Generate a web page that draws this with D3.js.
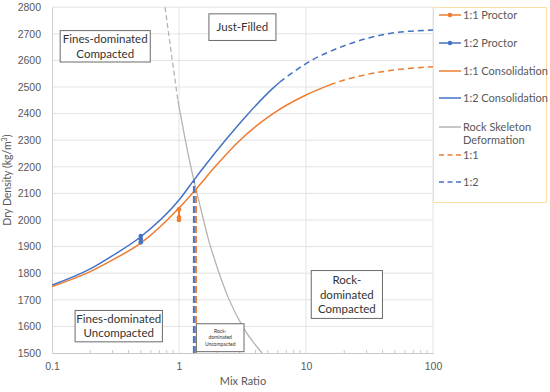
<!DOCTYPE html>
<html>
<head>
<meta charset="utf-8">
<script src="https://cdn.jsdelivr.net/npm/d3@7"></script>
<style>
  body { margin: 0; background: #fff; }
  svg { font-family: Lato, "Liberation Sans", sans-serif; }
</style>
</head>
<body>
<svg id="chart"></svg>
<script>
// values
const proctor11X = [1, 1, 1];
const proctor11Y = [2040, 2010, 2000];
const proctor12X = [0.5, 0.5, 0.5];
const proctor12Y = [1940, 1928, 1916];

const cons11X = [0.1, 0.2, 0.3, 0.5, 1, 1.36, 1.92, 3.02, 5.5, 10, 15.4];
const cons11Y = [1750, 1806, 1850, 1913, 2045, 2116, 2200, 2300, 2400, 2470, 2508];
const ext11X = [15.4, 20, 30, 50, 100];
const ext11Y = [2508, 2526, 2547, 2564, 2576];

const cons12X = [0.1, 0.2, 0.3, 0.5, 1, 1.31, 1.6, 2.38, 3.41, 5.47, 6.2];
const cons12Y = [1755, 1816, 1866, 1937, 2075, 2150, 2204, 2306, 2393, 2495, 2518];
const ext12X = [6.2, 10, 20, 50, 100];
const ext12Y = [2518, 2588, 2655, 2704, 2714];

const rockDashX = [0.776, 0.88, 0.98];
const rockDashY = [2800, 2610, 2450];
const rockX = [0.98, 1.11, 1.26, 1.41, 1.55, 1.69, 1.99, 2.43, 3.19, 4.51];
const rockY = [2450, 2312, 2185, 2085, 2005, 1934, 1824, 1711, 1597, 1500];

const limit11X = [1.36, 1.36];
const limit11Y = [1500, 2116];
const limit12X = [1.31, 1.31];
const limit12Y = [1500, 2150];

const xTicks = [0.1, 1, 10, 100];
const yTicks = d3.range(1500, 2801, 100);

const zip = (xs, ys) => xs.map((x, i) => [x, ys[i]]);

let width = 550;
let height = 392;
let plotBox = { left: 52, right: 433, top: 7.2, bottom: 353 };

const orange = "#ED7D31";
const blue = "#4472C4";
const grey = "#B4B4B4";
const textCol = "#595959";

let svg = d3.select("#chart").attr("width", width).attr("height", height);

let xScale = d3.scaleLog().domain([0.1, 100]).range([plotBox.left, plotBox.right]);
let yScale = d3.scaleLinear().domain([1500, 2800]).range([plotBox.bottom, plotBox.top]);

svg.append("defs").append("clipPath").attr("id", "plotclip")
  .append("rect")
  .attr("x", plotBox.left).attr("y", plotBox.top)
  .attr("width", plotBox.right - plotBox.left)
  .attr("height", plotBox.bottom - plotBox.top);

// gridlines
svg.append("g")
  .selectAll("line")
  .data(yTicks.slice(1))
  .join("line")
  .attr("x1", plotBox.left).attr("x2", plotBox.right)
  .attr("y1", d => yScale(d)).attr("y2", d => yScale(d))
  .attr("stroke", "#e3e3e3").attr("stroke-width", 1);

svg.append("g")
  .selectAll("line")
  .data(xTicks.slice(1))
  .join("line")
  .attr("x1", d => xScale(d)).attr("x2", d => xScale(d))
  .attr("y1", plotBox.top).attr("y2", plotBox.bottom)
  .attr("stroke", "#e3e3e3").attr("stroke-width", 1);

// axes
let yAxis = d3.axisLeft(yScale).tickValues(yTicks).tickFormat(d3.format("d"))
  .tickSize(0).tickPadding(11);
let gy = svg.append("g")
  .attr("transform", `translate(${plotBox.left},0)`)
  .call(yAxis);
gy.select(".domain").attr("stroke", "#d0d0d0");
gy.selectAll("text").attr("fill", textCol).style("font-size", "10.5px");

let minor = [];
[0.1, 1, 10].forEach(b => { for (let k = 2; k <= 9; k++) minor.push(b * k); });
let xAxis = d3.axisBottom(xScale).tickValues(xTicks)
  .tickFormat(d => d3.format("~g")(d)).tickSize(0).tickPadding(10);
let gx = svg.append("g")
  .attr("transform", `translate(0,${plotBox.bottom})`)
  .call(xAxis);
gx.select(".domain").attr("stroke", "#c8c8c8");
gx.selectAll("text").attr("fill", textCol).style("font-size", "10.5px");

svg.append("g")
  .selectAll("line")
  .data(minor)
  .join("line")
  .attr("x1", d => xScale(d)).attr("x2", d => xScale(d))
  .attr("y1", plotBox.bottom - 3).attr("y2", plotBox.bottom)
  .attr("stroke", "#c8c8c8");

// axis titles
svg.append("text")
  .attr("transform", `translate(11,${(plotBox.top + plotBox.bottom) / 2}) rotate(-90)`)
  .attr("text-anchor", "middle")
  .attr("fill", textCol).style("font-size", "10.5px")
  .call(t => {
    t.append("tspan").text("Dry Density (kg/m");
    t.append("tspan").text("3").attr("dy", -4).style("font-size", "7px");
    t.append("tspan").text(")").attr("dy", 4);
  });

svg.append("text")
  .attr("x", 243).attr("y", 385)
  .attr("text-anchor", "middle")
  .attr("fill", textCol).style("font-size", "11px")
  .text("Mix Ratio");

// region labels
function addBox(x0, y0, x1, y1, lines, size) {
  let g = svg.append("g");
  g.append("rect")
    .attr("x", xScale(x0)).attr("y", yScale(y1))
    .attr("width", xScale(x1) - xScale(x0))
    .attr("height", yScale(y0) - yScale(y1))
    .attr("fill", "#fff").attr("stroke", "#6a6a6a").attr("stroke-width", 1);
  let cx = (xScale(x0) + xScale(x1)) / 2;
  let cy = (yScale(y0) + yScale(y1)) / 2;
  let lh = size * 1.25;
  lines.forEach((s, i) => {
    g.append("text")
      .attr("x", cx)
      .attr("y", cy + (i - (lines.length - 1) / 2) * lh + size * 0.35)
      .attr("text-anchor", "middle")
      .attr("fill", "#333").style("font-size", size + "px")
      .text(s);
  });
}

let plot = svg.append("g").attr("clip-path", "url(#plotclip)");

let line = d3.line()
  .x(d => xScale(d[0]))
  .y(d => yScale(d[1]))
  .curve(d3.curveMonotoneX);

function addLine(data, color, dash, w = 1.5) {
  plot.append("path")
    .datum(data)
    .attr("d", line)
    .attr("fill", "none")
    .attr("stroke", color)
    .attr("stroke-width", w)
    .attr("stroke-dasharray", dash || null);
}

// rock skeleton deformation
addLine(zip(rockDashX, rockDashY), grey, "5,3", 1.3);
addLine(zip(rockX, rockY), grey, null, 1.3);

// consolidation curves
addLine(zip(cons11X, cons11Y), orange, null);
addLine(zip(ext11X, ext11Y), orange, "6,4");
addLine(zip(cons12X, cons12Y), blue, null);
addLine(zip(ext12X, ext12Y), blue, "6,4");

// limits
let straight = d3.line().x(d => xScale(d[0])).y(d => yScale(d[1]));
plot.append("path").datum(zip(limit12X, limit12Y)).attr("d", straight)
  .attr("stroke", blue).attr("stroke-width", 2).attr("stroke-dasharray", "7,3").attr("fill", "none");
plot.append("path").datum(zip(limit11X, limit11Y)).attr("d", straight)
  .attr("stroke", orange).attr("stroke-width", 2).attr("stroke-dasharray", "7,3").attr("fill", "none");

// proctor points
[[proctor11X, proctor11Y, orange], [proctor12X, proctor12Y, blue]].forEach(([xs, ys, c]) => {
  let pts = zip(xs, ys);
  plot.append("path").datum(pts).attr("d", straight)
    .attr("stroke", c).attr("stroke-width", 2).attr("fill", "none");
  plot.selectAll(null).data(pts).join("circle")
    .attr("cx", d => xScale(d[0])).attr("cy", d => yScale(d[1]))
    .attr("r", 2.3).attr("fill", c);
});

addBox(0.116, 2594, 0.594, 2712, ["Fines-dominated", "Compacted"], 11.5);
addBox(1.72, 2675, 5.8, 2775, ["Just-Filled"], 11.5);
addBox(0.152, 1542, 0.74, 1660, ["Fines-dominated", "Uncompacted"], 11.5);
addBox(11.0, 1630, 40.0, 1810, ["Rock-", "dominated", "Compacted"], 11.5);
addBox(1.37, 1505, 3.25, 1610, ["Rock-", "dominated", "Uncompacted"], 5);

// legend
let lg = svg.append("g");
lg.append("rect")
  .attr("x", 433.5).attr("y", 7.5).attr("width", 113).attr("height", 195)
  .attr("fill", "#fff").attr("stroke", "#f8dfa8").attr("stroke-width", 1);

const legendItems = [
  { label: ["1:1 Proctor"], color: orange, dash: null, marker: true, y: 15 },
  { label: ["1:2 Proctor"], color: blue, dash: null, marker: true, y: 43 },
  { label: ["1:1 Consolidation"], color: orange, dash: null, marker: false, y: 71 },
  { label: ["1:2 Consolidation"], color: blue, dash: null, marker: false, y: 98 },
  { label: ["Rock Skeleton", "Deformation"], color: grey, dash: null, marker: false, y: 127 },
  { label: ["1:1"], color: orange, dash: "5,3.5", marker: false, y: 155 },
  { label: ["1:2"], color: blue, dash: "5,3.5", marker: false, y: 182 }
];

legendItems.forEach(it => {
  lg.append("line")
    .attr("x1", 439).attr("x2", 461)
    .attr("y1", it.y).attr("y2", it.y)
    .attr("stroke", it.color).attr("stroke-width", 1.5)
    .attr("stroke-dasharray", it.dash);
  if (it.marker) {
    lg.append("circle").attr("cx", 450).attr("cy", it.y).attr("r", 2.3).attr("fill", it.color);
  }
  it.label.forEach((s, i) => {
    lg.append("text")
      .attr("x", 463).attr("y", it.y + 4 + i * 13)
      .attr("fill", textCol).style("font-size", "11px")
      .text(s);
  });
});
</script>
</body>
</html>
